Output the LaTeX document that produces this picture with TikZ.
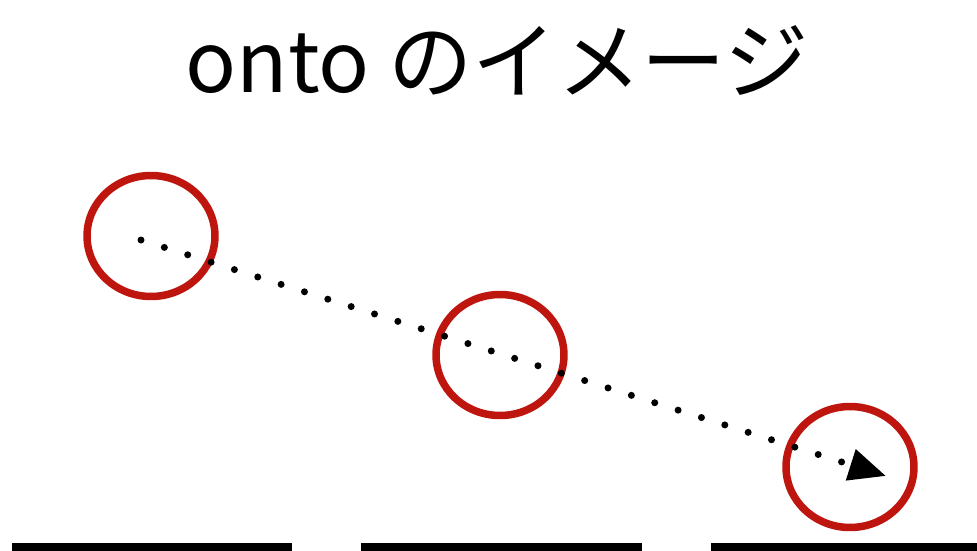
\documentclass[tikz,border=0pt]{standalone}
\usepackage{fontspec}
\newfontfamily\cjk{Noto Sans CJK JP}
\usetikzlibrary{
  shapes.geometric,
  arrows.meta
}
\definecolor{ringred}{RGB}{190,22,14}
\tikzset{
  ring/.style={ellipse,draw=ringred,line width=0.15cm,
    minimum width=2.56cm,minimum height=2.42cm,inner sep=0pt},
  maparr/.style={line width=0.14cm,line cap=round,dash pattern=on 0pt off 0.49cm,
    -{Triangle[length=0.74cm,width=0.62cm]}},
  floorline/.style={line width=0.17cm,draw=black}
}

\begin{document}
\begin{tikzpicture}[x=0.02cm,y=-0.02cm]

  \useasboundingbox[fill=white] (0,0) rectangle (977,551);

  % Title
  \node[font=\cjk\fontsize{48}{52}\selectfont] (title) at (497,60) {onto のイメージ};

  % Rings
  \node[ring] (ringa) at (151,236) {};
  \node[ring] (ringb) at (500,355) {};
  \node[ring] (ringc) at (850,467) {};

  % Dotted arrow
  \coordinate (from) at (141,240);
  \coordinate (to) at (886,476);
  \draw[maparr] (from) -- (to);

  % Floor
  \draw[floorline] (12,547) -- (292,547);
  \draw[floorline] (361,547) -- (642,547);
  \draw[floorline] (711,547) -- (990,547);

\end{tikzpicture}
\end{document}
